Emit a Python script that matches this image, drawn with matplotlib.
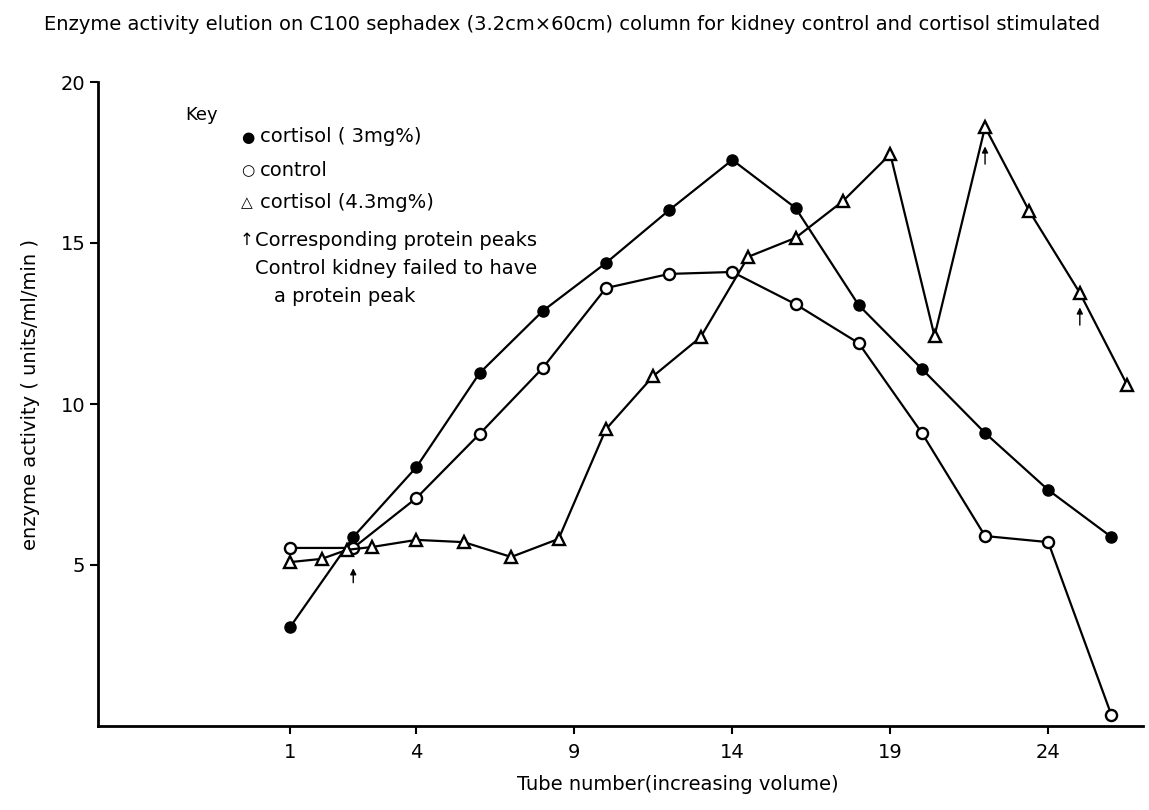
import matplotlib
matplotlib.use("Agg")
import matplotlib.pyplot as plt

# tube positions where cortisol (3mg%) and control were read (every second tube)
tubes = [0, 2, 4, 6, 8, 10, 12, 14, 16, 18, 20, 22, 24, 26]
cortisol_3 = [3.07, 5.87, 8.04, 10.96, 12.89, 14.38, 16.02, 17.58, 16.09, 13.07, 11.09, 9.10, 7.33, 5.87]
control = [5.53, 5.53, 7.08, 9.07, 11.12, 13.60, 14.04, 14.10, 13.10, 11.89, 9.10, 5.90, 5.71, 0.34]

# cortisol (4.3mg%) series has its own tube positions
tubes_43 = [0, 1, 1.8, 2.6, 4, 5.5, 7, 8.5, 10, 11.5, 13, 14.5, 16, 17.5, 19, 20.4, 22, 23.4, 25, 26.5]
cortisol_43 = [5.09, 5.19, 5.47, 5.56, 5.78, 5.71, 5.25, 5.81, 9.22, 10.87, 12.08, 14.57, 15.16,
               16.30, 17.76, 12.11, 18.6, 15.99, 13.45, 10.59]

# corresponding protein peaks (small arrows)
peak_tubes = [2, 22, 25]
peak_tip = [4.9, 18.0, 13.0]
peak_tail = [4.45, 17.45, 12.45]

x_ticks = [0, 4, 9, 14, 19, 24]
x_tick_labels = ['1', '4', '9', '14', '19', '24']
y_ticks = [5, 10, 15, 20]

W, H = 1149, 810
fs = 14
fig = plt.figure(figsize=(W / 100, H / 100), dpi=100)
ax = fig.add_axes([98 / W, 1 - 726 / H, (1143 - 98) / W, (726 - 82) / H])

lw = 1.6
ax.plot(tubes, cortisol_3, color='black', lw=lw, marker='o', markersize=8,
        markerfacecolor='black', markeredgecolor='black', zorder=3)
ax.plot(tubes, control, color='black', lw=lw, marker='o', markersize=8,
        markerfacecolor='white', markeredgecolor='black', markeredgewidth=1.7, zorder=3)
ax.plot(tubes_43, cortisol_43, color='black', lw=lw, marker='^', markersize=8,
        markerfacecolor='white', markeredgecolor='black', markeredgewidth=1.7, zorder=3)

for t, tip, tail in zip(peak_tubes, peak_tip, peak_tail):
    ax.annotate('', xy=(t, tip), xytext=(t, tail),
                arrowprops=dict(arrowstyle='-|>', color='black', lw=1.0,
                                mutation_scale=9, shrinkA=0, shrinkB=0),
                zorder=5)

ax.set_xlim(-6.08, 27.0)
ax.set_ylim(0, 20)
ax.set_xticks(x_ticks)
ax.set_xticklabels(x_tick_labels)
ax.set_yticks(y_ticks)

for s in ['top', 'right']:
    ax.spines[s].set_visible(False)
for s in ['left', 'bottom']:
    ax.spines[s].set_linewidth(2)
ax.tick_params(axis='both', direction='out', length=6, width=1.5, labelsize=fs)
ax.tick_params(axis='x', pad=6)
ax.tick_params(axis='y', pad=3)

# key
kx = 260 / W
fig.text(185 / W, 1 - 115 / H, 'Key', fontsize=13, va='center')
fig.text(kx - 19 / W, 1 - 137 / H, '\u25cf', fontsize=11, va='center')
fig.text(kx, 1 - 137 / H, 'cortisol ( 3mg%)', fontsize=fs, va='center')
fig.text(kx - 19 / W, 1 - 171 / H, '\u25cb', fontsize=11, va='center')
fig.text(kx, 1 - 171 / H, 'control', fontsize=fs, va='center')
fig.text(kx - 19 / W, 1 - 203 / H, '\u25b3', fontsize=11, va='center')
fig.text(kx, 1 - 203 / H, 'cortisol (4.3mg%)', fontsize=fs, va='center')
fig.text(kx - 20 / W, 1 - 240 / H, '\u2191', fontsize=12, va='center')
fig.text(255 / W, 1 - 240 / H, 'Corresponding protein peaks', fontsize=fs, va='center')
fig.text(255 / W, 1 - 268 / H, 'Control kidney failed to have', fontsize=fs, va='center')
fig.text(274 / W, 1 - 297 / H, 'a protein peak', fontsize=fs, va='center')

fig.text(572 / W, 1 - 24 / H,
         'Enzyme activity elution on C100 sephadex (3.2cm\u00d760cm) column for kidney control and cortisol stimulated',
         fontsize=14, ha='center', va='center')
fig.text(678 / W, 1 - 784 / H, 'Tube number(increasing volume)', fontsize=fs, ha='center', va='center')
fig.text(31 / W, 1 - 394 / H, 'enzyme activity ( units/ml/min )', fontsize=fs,
         rotation=90, ha='center', va='center')

fig.savefig('out.png', dpi=100)
